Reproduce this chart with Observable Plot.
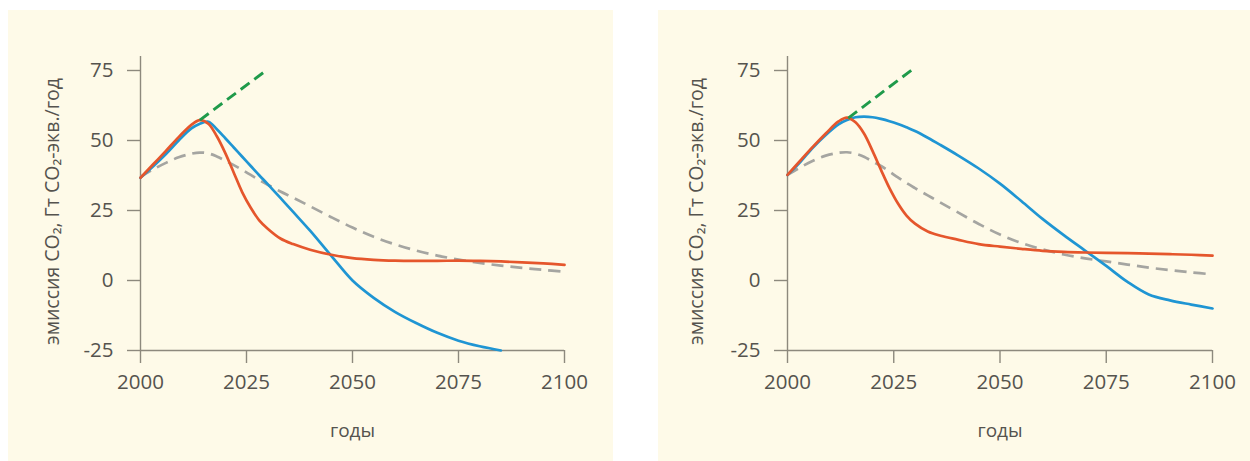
<!DOCTYPE html>
<html>
<head>
<meta charset="utf-8">
<script src="https://cdn.jsdelivr.net/npm/d3@7"></script>
<script src="https://cdn.jsdelivr.net/npm/@observablehq/plot@0.6"></script>
<style>
  html, body { margin: 0; padding: 0; background: #ffffff; }
  body { width: 1250px; height: 461px; position: relative; overflow: hidden; }
  .panel { position: absolute; top: 10px; height: 451px; background: #fefae8; }
</style>
</head>
<body>
<div id="left" class="panel" style="left:8px; width:605px;"></div>
<div id="right" class="panel" style="left:658px; width:592px;"></div>
<script>
// ---------- data ----------
const years = [2000, 2003, 2006, 2009, 2012, 2014, 2016, 2018, 2020, 2022, 2024, 2026, 2028, 2030,
               2033, 2036, 2040, 2045, 2050, 2055, 2060, 2065, 2070, 2075, 2080, 2085, 2090, 2095, 2100];

// left panel
const leftRed  = [36.7, 41.5, 46.3, 51.2, 55.6, 57.3, 56.0, 51.5, 45.5, 38.5, 31.5, 26.0, 21.5, 18.5,
                  15.0, 13.0, 11.0, 9.2, 8.0, 7.4, 7.1, 7.0, 7.0, 7.1, 7.0, 6.8, 6.5, 6.1, 5.6];
const leftBlue = [36.7, 40.8, 45.2, 50.0, 54.3, 56.0, 56.7, 54.0, 50.8, 47.5, 44.2, 40.9, 37.6, 34.4,
                  29.5, 24.5, 17.8, 8.8, 0.0, -6.2, -11.2, -15.2, -18.7, -21.5, -23.5, -25.0, null, null, null];
const leftGray = [37.0, 39.7, 42.0, 44.0, 45.3, 45.7, 45.4, 44.3, 42.8, 41.2, 39.5, 37.7, 35.9, 34.2,
                  31.8, 29.6, 26.5, 22.6, 18.9, 15.6, 12.9, 10.7, 8.9, 7.5, 6.3, 5.3, 4.5, 3.8, 3.1];
const leftGreenYears = [2014, 2029];
const leftGreen = [57.3, 74.3];

// right panel
const rightRed  = [37.7, 42.8, 47.8, 52.5, 56.8, 58.2, 56.5, 52.5, 46.3, 39.5, 33.0, 27.5, 23.2, 20.3,
                   17.5, 16.0, 14.6, 13.0, 12.1, 11.3, 10.6, 10.2, 10.0, 9.9, 9.8, 9.6, 9.4, 9.2, 8.9];
const rightBlue = [37.7, 42.3, 47.5, 52.0, 55.8, 57.3, 58.3, 58.5, 58.3, 57.7, 56.9, 55.9, 54.7, 53.4,
                   51.0, 48.4, 44.8, 40.0, 34.6, 28.4, 22.0, 16.2, 10.7, 5.2, -0.5, -5.0, -7.1, -8.6, -10.0];
const rightGray = [37.7, 40.4, 42.8, 44.6, 45.6, 45.8, 45.3, 44.2, 42.5, 40.9, 38.9, 36.8, 34.8, 33.0,
                   30.4, 27.8, 24.4, 20.2, 16.4, 13.4, 11.1, 9.3, 7.9, 6.8, 5.7, 4.6, 3.7, 2.9, 2.2];
const rightGreenYears = [2014.3, 2029.5];
const rightGreen = [58.0, 75.5];

const xTicks = [2000, 2025, 2050, 2075, 2100];
const yTicks = [-25, 0, 25, 50, 75];
const xDomain = [2000, 2100];
const yDomain = [-25, 80];
const yLabel = "эмиссия CO₂, Гт CO₂-экв./год";
const xLabel = "годы";

// ---------- style ----------
const C = {
  red: "#e5562c",
  blue: "#1f95d3",
  gray: "#a5a5a1",
  green: "#1f9a4a",
  axis: "#8d897d",
  text: "#55534e"
};
const FONT = "'Open Sans', 'Noto Sans', sans-serif";

function table(xs, ys) {
  return xs.map((x, i) => ({year: x, value: ys[i]})).filter(d => d.value != null);
}

function panel(el, width, marginLeft, marginRight, series, labelDx) {
  const lineOpts = {x: "year", y: "value", curve: "catmull-rom", strokeWidth: 2.7,
                    strokeLinecap: "round", strokeLinejoin: "round"};
  const chart = Plot.plot({
    width,
    height: 451,
    marginLeft,
    marginRight,
    marginTop: 46,
    marginBottom: 111,
    style: {background: "transparent", fontFamily: FONT, fontSize: "20.5px", color: C.text, overflow: "visible"},
    x: {domain: xDomain},
    y: {domain: yDomain},
    marks: [
      Plot.axisX(xTicks, {tickSize: 13, tickPadding: 11, stroke: C.axis, strokeWidth: 1.4, fill: C.text,
                          tickFormat: d => String(d), label: null}),
      Plot.axisY(yTicks, {tickSize: 13, tickPadding: 14, stroke: C.axis, strokeWidth: 1.4, fill: C.text,
                          tickFormat: d => String(d), label: null}),
      Plot.ruleX([xDomain[0]], {y1: yDomain[0], y2: yDomain[1], stroke: C.axis, strokeWidth: 1.4}),
      Plot.ruleY([yDomain[0]], {x1: xDomain[0], x2: xDomain[1], stroke: C.axis, strokeWidth: 1.4}),
      Plot.line(series.gray, {...lineOpts, stroke: C.gray, strokeDasharray: "12,7", strokeLinecap: "butt"}),
      Plot.line(series.blue, {...lineOpts, stroke: C.blue}),
      Plot.line(series.red, {...lineOpts, stroke: C.red}),
      Plot.line(series.green, {...lineOpts, curve: "linear", stroke: C.green, strokeWidth: 2.9,
                               strokeDasharray: "11,6", strokeLinecap: "butt"}),
      Plot.text([yLabel], {text: d => d, frameAnchor: "left", rotate: -90, lineAnchor: "top", textAnchor: "middle",
                           dx: labelDx, dy: 8, fontSize: 19.5, fill: C.text}),
      Plot.text([xLabel], {text: d => d, frameAnchor: "bottom", lineAnchor: "bottom", textAnchor: "middle",
                           dy: 86, fontSize: 19, fill: C.text})
    ]
  });
  document.getElementById(el).appendChild(chart);
}

panel("left", 605, 132, 49, {
  red: table(years, leftRed),
  blue: table(years, leftBlue),
  gray: table(years, leftGray),
  green: table(leftGreenYears, leftGreen)
}, -95);

panel("right", 592, 129, 38, {
  red: table(years, rightRed),
  blue: table(years, rightBlue),
  gray: table(years, rightGray),
  green: table(rightGreenYears, rightGreen)
}, -98);
</script>
</body>
</html>
